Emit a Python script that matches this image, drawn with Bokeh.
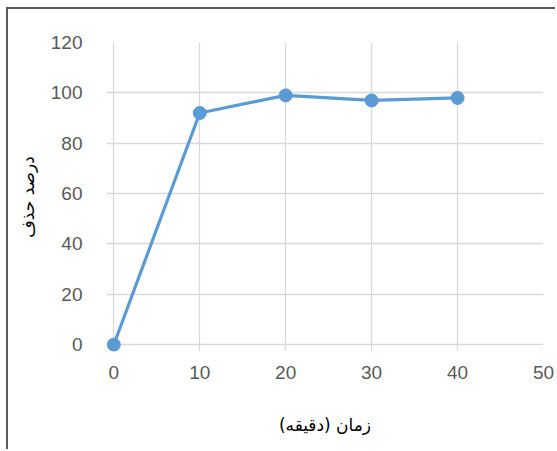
from bokeh.plotting import figure
from bokeh.models import Range1d, FixedTicker
from bokeh.embed import file_html
from bokeh.resources import INLINE

# data
time_min = [0, 10, 20, 30, 40]
removal_pct = [0, 92, 99, 97, 98]
x_ticks = [0, 10, 20, 30, 40, 50]
y_ticks = [0, 20, 40, 60, 80, 100, 120]
x_title = "زمان (دقیقه)"
y_title = "درصد حذف"

W, H = 549, 442
p = figure(width=W, height=H, output_backend="svg", toolbar_location=None,
           x_range=Range1d(-0.85, 50), y_range=Range1d(-2.7, 120),
           min_border_left=98, min_border_right=14, min_border_top=33, min_border_bottom=100)
p.styles = {"margin-left": "6px", "margin-top": "7px",
            "border-left": "2px solid #5a5a5a", "border-top": "2px solid #5a5a5a"}
p.outline_line_color = None
p.background_fill_color = "white"
p.border_fill_color = "white"

p.line(time_min, removal_pct, line_color="#5B9BD5", line_width=3.2)
p.scatter(time_min, removal_pct, size=13, fill_color="#5B9BD5", line_color="#5B9BD5")

for ax in (p.xaxis[0], p.yaxis[0]):
    ax.axis_line_color = None
    ax.major_tick_line_color = None
    ax.minor_tick_line_color = None
    ax.major_label_text_font = "Liberation Sans"
    ax.major_label_text_font_size = "19px"
    ax.major_label_text_color = "#595959"
    ax.axis_label_text_font = "DejaVu Sans"
    ax.axis_label_text_font_size = "17px"
    ax.axis_label_text_font_style = "normal"
    ax.axis_label_text_color = "#000000"

p.xaxis[0].ticker = FixedTicker(ticks=x_ticks)
p.yaxis[0].ticker = FixedTicker(ticks=y_ticks)
p.xaxis[0].major_label_standoff = 8
p.yaxis[0].major_label_standoff = 18
p.xaxis[0].axis_label = x_title
p.yaxis[0].axis_label = y_title
p.xaxis[0].axis_label_standoff = 33
p.yaxis[0].axis_label_standoff = 10

p.xgrid.ticker = FixedTicker(ticks=x_ticks)
p.ygrid.ticker = FixedTicker(ticks=y_ticks)
for g in (p.xgrid[0], p.ygrid[0]):
    g.grid_line_color = "#D9D9D9"
    g.grid_line_width = 1.3

open("out.html", "w").write(file_html(p, INLINE))
